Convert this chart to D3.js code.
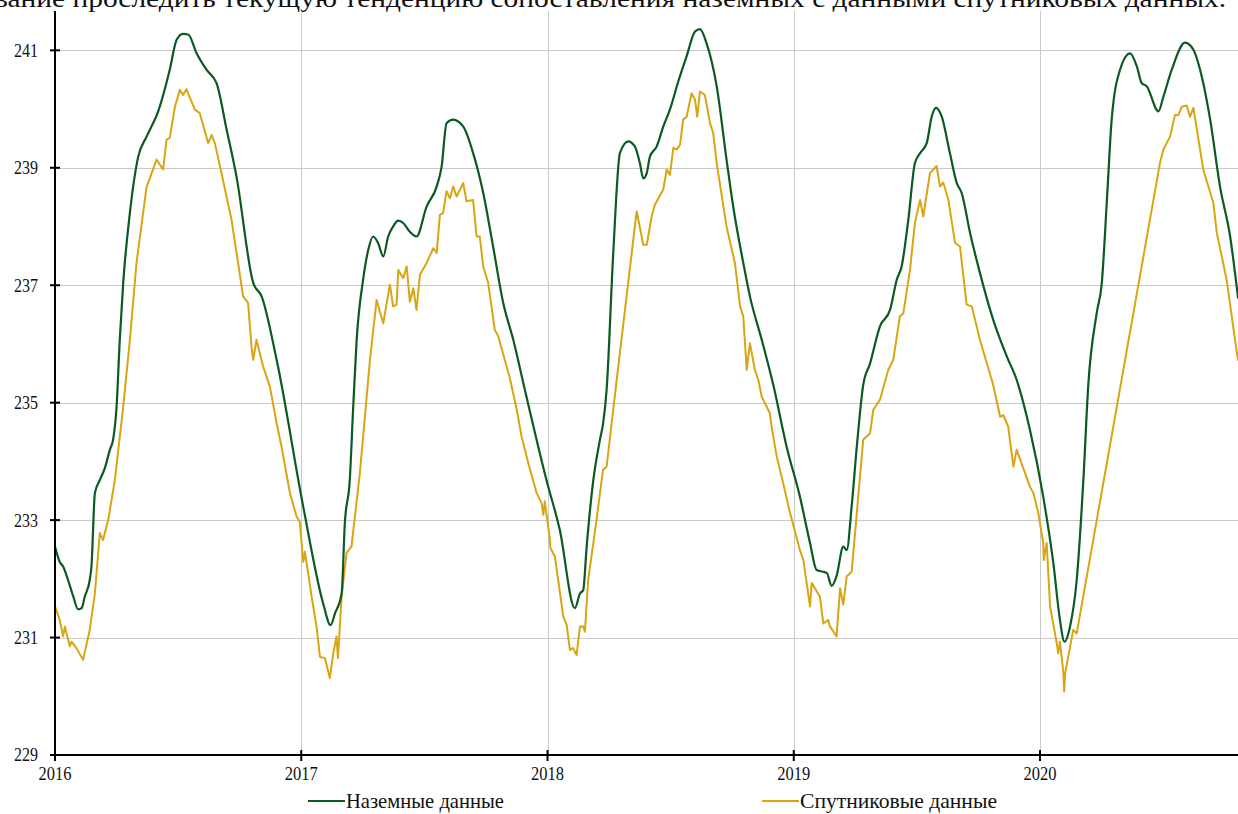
<!DOCTYPE html>
<html>
<head>
<meta charset="utf-8">
<script src="https://cdn.jsdelivr.net/npm/d3@7"></script>
<style>
  html, body { margin: 0; padding: 0; background: #fff; }
  svg { display: block; }
  text { font-family: "Liberation Serif", "Times New Roman", serif; fill: #111; }
</style>
</head>
<body>
<svg id="chart" width="1238" height="814"></svg>
<script>
// Ground-station series: [decimal year, value]
const groundData = [
  [2016.000,232.55],[2016.019,232.29],[2016.033,232.21],[2016.053,231.98],[2016.074,231.70],
  [2016.094,231.48],[2016.108,231.50],[2016.121,231.70],[2016.141,231.98],[2016.148,232.21],
  [2016.162,233.46],[2016.182,233.68],[2016.202,233.88],[2016.223,234.20],[2016.236,234.37],
  [2016.250,234.93],[2016.263,236.07],[2016.277,237.04],[2016.304,238.23],[2016.338,239.19],
  [2016.372,239.53],[2016.419,239.96],[2016.466,240.67],[2016.494,241.18],[2016.520,241.28],
  [2016.541,241.27],[2016.575,240.95],[2016.615,240.67],[2016.656,240.44],[2016.697,239.65],
  [2016.737,238.85],[2016.805,237.04],[2016.839,236.81],[2016.900,235.73],[2017.008,233.23],
  [2017.089,231.58],[2017.119,231.21],[2017.137,231.41],[2017.164,231.75],[2017.177,232.95],
  [2017.197,233.68],[2017.211,234.93],[2017.225,236.07],[2017.251,237.09],[2017.272,237.60],
  [2017.292,237.83],[2017.312,237.72],[2017.333,237.49],[2017.353,237.83],[2017.373,238.00],
  [2017.394,238.10],[2017.414,238.06],[2017.441,237.91],[2017.468,237.83],[2017.509,238.34],
  [2017.550,238.68],[2017.570,239.02],[2017.590,239.76],[2017.617,239.82],[2017.658,239.70],
  [2017.698,239.25],[2017.739,238.57],[2017.779,237.66],[2017.820,236.70],[2017.861,236.07],
  [2017.908,235.22],[2017.996,233.68],[2018.050,232.83],[2018.111,231.50],[2018.132,231.75],
  [2018.145,231.81],[2018.159,232.55],[2018.186,233.68],[2018.213,234.37],[2018.226,234.65],
  [2018.240,235.22],[2018.267,237.55],[2018.294,239.25],[2018.328,239.45],[2018.355,239.36],
  [2018.375,239.08],[2018.389,238.82],[2018.403,238.91],[2018.416,239.19],[2018.443,239.36],
  [2018.470,239.70],[2018.497,239.99],[2018.531,240.47],[2018.565,240.90],[2018.599,241.32],
  [2018.619,241.36],[2018.646,241.12],[2018.687,240.39],[2018.727,239.14],[2018.754,238.34],
  [2018.795,237.38],[2018.822,236.81],[2018.870,236.07],[2018.917,235.30],[2018.971,234.25],
  [2019.025,233.40],[2019.066,232.61],[2019.093,232.15],[2019.120,232.12],[2019.134,232.10],
  [2019.154,231.88],[2019.174,232.05],[2019.201,232.55],[2019.215,232.49],[2019.235,233.23],
  [2019.256,234.25],[2019.282,235.30],[2019.310,235.67],[2019.350,236.30],[2019.391,236.58],
  [2019.418,237.09],[2019.438,237.32],[2019.465,238.11],[2019.492,239.08],[2019.513,239.25],
  [2019.540,239.42],[2019.560,239.87],[2019.578,240.02],[2019.601,239.87],[2019.634,239.25],
  [2019.662,238.74],[2019.682,238.57],[2019.716,237.89],[2019.756,237.21],[2019.810,236.41],
  [2019.865,235.79],[2019.905,235.39],[2019.959,234.54],[2020.013,233.40],[2020.054,232.27],
  [2020.081,231.30],[2020.099,230.93],[2020.122,231.19],[2020.149,231.98],[2020.176,233.68],
  [2020.196,235.30],[2020.230,236.52],[2020.251,237.04],[2020.271,238.40],[2020.291,239.82],
  [2020.325,240.67],[2020.366,240.95],[2020.393,240.73],[2020.413,240.44],[2020.433,240.39],
  [2020.481,239.96],[2020.501,240.21],[2020.535,240.67],[2020.589,241.13],[2020.623,241.01],
  [2020.650,240.67],[2020.691,239.82],[2020.731,238.68],[2020.772,237.83],[2020.804,236.79]
];

// Satellite series: [decimal year, value]
const satData = [
  [2016.000,231.53],[2016.019,231.30],[2016.033,231.02],[2016.040,231.19],[2016.060,230.85],
  [2016.067,230.93],[2016.087,230.82],[2016.114,230.62],[2016.141,231.13],[2016.162,231.75],
  [2016.182,232.78],[2016.195,232.66],[2016.216,233.00],[2016.243,233.68],[2016.277,234.93],
  [2016.304,236.07],[2016.331,237.38],[2016.372,238.68],[2016.385,238.82],[2016.412,239.14],
  [2016.439,238.97],[2016.453,239.48],[2016.466,239.51],[2016.487,240.04],[2016.507,240.33],
  [2016.520,240.24],[2016.534,240.34],[2016.548,240.19],[2016.568,239.99],[2016.588,239.93],
  [2016.622,239.42],[2016.636,239.56],[2016.649,239.42],[2016.676,238.91],[2016.717,238.11],
  [2016.764,236.81],[2016.784,236.70],[2016.798,235.96],[2016.805,235.73],[2016.818,236.07],
  [2016.845,235.62],[2016.873,235.27],[2016.900,234.65],[2016.920,234.25],[2016.954,233.46],
  [2016.981,233.06],[2016.994,232.97],[2017.008,232.29],[2017.015,232.46],[2017.042,231.70],
  [2017.062,231.19],[2017.076,230.67],[2017.096,230.65],[2017.116,230.31],[2017.130,230.73],
  [2017.143,231.02],[2017.149,230.65],[2017.164,231.70],[2017.184,232.44],[2017.204,232.55],
  [2017.238,233.80],[2017.279,235.73],[2017.306,236.75],[2017.333,236.35],[2017.360,237.01],
  [2017.373,236.64],[2017.387,236.67],[2017.394,237.26],[2017.414,237.12],[2017.428,237.32],
  [2017.441,236.72],[2017.455,236.95],[2017.468,236.58],[2017.482,237.18],[2017.509,237.38],
  [2017.536,237.63],[2017.550,237.55],[2017.563,238.20],[2017.576,238.23],[2017.590,238.60],
  [2017.604,238.48],[2017.617,238.68],[2017.631,238.51],[2017.658,238.74],[2017.671,238.43],
  [2017.698,238.45],[2017.712,237.83],[2017.725,237.83],[2017.739,237.32],[2017.759,237.04],
  [2017.786,236.24],[2017.800,236.13],[2017.847,235.42],[2017.875,234.88],[2017.895,234.42],
  [2017.922,233.97],[2017.929,233.86],[2017.956,233.46],[2017.976,233.29],[2017.983,233.09],
  [2017.989,233.32],[2018.010,232.66],[2018.012,232.52],[2018.030,232.38],[2018.064,231.36],
  [2018.078,231.21],[2018.091,230.79],[2018.104,230.82],[2018.118,230.70],[2018.132,231.19],
  [2018.145,231.19],[2018.152,231.10],[2018.165,231.98],[2018.199,233.00],[2018.220,233.68],
  [2018.226,233.86],[2018.240,233.91],[2018.281,235.39],[2018.362,238.26],[2018.389,237.69],
  [2018.403,237.69],[2018.423,238.17],[2018.436,238.37],[2018.470,238.63],[2018.484,238.97],
  [2018.497,238.88],[2018.511,239.34],[2018.524,239.31],[2018.538,239.39],[2018.551,239.82],
  [2018.565,239.87],[2018.585,240.27],[2018.599,240.16],[2018.608,239.87],[2018.619,240.30],
  [2018.639,240.24],[2018.660,239.76],[2018.673,239.59],[2018.687,239.08],[2018.727,238.00],
  [2018.761,237.38],[2018.782,236.64],[2018.795,236.47],[2018.809,235.56],[2018.822,236.01],
  [2018.842,235.56],[2018.856,235.39],[2018.870,235.10],[2018.903,234.82],[2018.910,234.59],
  [2018.931,234.08],[2018.957,233.63],[2018.985,233.12],[2019.025,232.49],[2019.039,232.32],
  [2019.066,231.53],[2019.073,231.93],[2019.106,231.70],[2019.120,231.24],[2019.140,231.30],
  [2019.147,231.19],[2019.174,231.02],[2019.188,231.84],[2019.201,231.56],[2019.215,232.04],
  [2019.235,232.12],[2019.256,233.12],[2019.282,234.37],[2019.310,234.48],[2019.323,234.88],
  [2019.350,235.05],[2019.384,235.56],[2019.404,235.73],[2019.431,236.47],[2019.445,236.52],
  [2019.472,237.26],[2019.492,238.06],[2019.513,238.45],[2019.526,238.17],[2019.553,238.91],
  [2019.580,239.03],[2019.594,238.68],[2019.607,238.75],[2019.628,238.45],[2019.655,237.72],
  [2019.675,237.66],[2019.702,236.67],[2019.723,236.64],[2019.756,236.07],[2019.810,235.30],
  [2019.838,234.76],[2019.851,234.79],[2019.871,234.59],[2019.892,233.91],[2019.905,234.20],
  [2019.959,233.57],[2019.973,233.46],[2019.993,233.12],[2020.013,232.61],[2020.015,232.32],
  [2020.027,232.61],[2020.041,231.53],[2020.068,230.90],[2020.074,230.73],[2020.081,230.93],
  [2020.095,230.39],[2020.098,230.08],[2020.102,230.39],[2020.135,231.13],[2020.149,231.07],
  [2020.487,239.08],[2020.501,239.31],[2020.528,239.53],[2020.548,239.90],[2020.562,239.90],
  [2020.576,240.04],[2020.596,240.06],[2020.609,239.87],[2020.623,240.02],[2020.663,238.97],
  [2020.704,238.40],[2020.718,237.89],[2020.758,237.09],[2020.792,236.07],[2020.804,235.73]
];

const yearTicks = [2016, 2017, 2018, 2019, 2020];
const valueTicks = [229, 231, 233, 235, 237, 239, 241];
const seriesNames = ["Наземные данные", "Спутниковые данные"];
const seriesColors = ["#0b5a22", "#d9a514"];
const headerText = "вание проследить текущую тенденцию сопоставления наземных с данными спутниковых данных.";

const plot = { left: 55, right: 1238, top: 11, bottom: 755 };

const svg = d3.select("#chart");

const x = d3.scaleLinear().domain([2016, 2020.804]).range([plot.left, plot.right]);
const y = d3.scaleLinear().domain([229, 241.67]).range([plot.bottom, plot.top]);

// Running text of the page above the figure (its upper part runs off the top edge)
svg.append("text")
  .attr("x", -6).attr("y", 7)
  .attr("font-size", 26)
  .attr("textLength", 1232)
  .attr("lengthAdjust", "spacingAndGlyphs")
  .text(headerText);

// Grid
const grid = svg.append("g").attr("stroke", "#c9c9c9").attr("stroke-width", 1);
grid.selectAll("line.h").data(valueTicks.filter(v => v !== 229)).join("line")
  .attr("x1", plot.left).attr("x2", plot.right)
  .attr("y1", d => Math.round(y(d)) + 0.5).attr("y2", d => Math.round(y(d)) + 0.5);
grid.selectAll("line.v").data(yearTicks.filter(t => t !== 2016)).join("line")
  .attr("x1", d => Math.round(x(d)) + 0.5).attr("x2", d => Math.round(x(d)) + 0.5)
  .attr("y1", plot.top).attr("y2", plot.bottom);

// Clip for the series
svg.append("clipPath").attr("id", "plotClip").append("rect")
  .attr("x", plot.left).attr("y", 0)
  .attr("width", plot.right - plot.left).attr("height", plot.bottom);

// Ground data is a smoothed series; satellite data is drawn point to point
const smoothLine = d3.line().curve(d3.curveMonotoneX).x(d => x(d[0])).y(d => y(d[1]));
const rawLine = d3.line().x(d => x(d[0])).y(d => y(d[1]));
const lines = svg.append("g").attr("clip-path", "url(#plotClip)").attr("fill", "none")
  .attr("stroke-linejoin", "round").attr("stroke-linecap", "round");
lines.append("path").datum(satData).attr("d", rawLine)
  .attr("stroke", seriesColors[1]).attr("stroke-width", 2);
lines.append("path").datum(groundData).attr("d", smoothLine)
  .attr("stroke", seriesColors[0]).attr("stroke-width", 2.2);

// Y axis
const yAxis = svg.append("g");
yAxis.append("line").attr("x1", plot.left).attr("x2", plot.left)
  .attr("y1", plot.top).attr("y2", plot.bottom + 1)
  .attr("stroke", "#000").attr("stroke-width", 2);
yAxis.selectAll("line.tick").data(valueTicks).join("line")
  .attr("x1", plot.left - 5).attr("x2", plot.left + 5)
  .attr("y1", d => y(d)).attr("y2", d => y(d))
  .attr("stroke", "#000").attr("stroke-width", 2);
yAxis.selectAll("text").data(valueTicks).join("text")
  .attr("x", 38).attr("y", d => y(d)).attr("dy", "0.34em")
  .attr("text-anchor", "end").attr("font-size", 19)
  .attr("textLength", 24).attr("lengthAdjust", "spacingAndGlyphs")
  .text(d => d);

// X axis
const xAxis = svg.append("g");
xAxis.append("line").attr("x1", plot.left - 1).attr("x2", plot.right)
  .attr("y1", plot.bottom).attr("y2", plot.bottom)
  .attr("stroke", "#000").attr("stroke-width", 2);
xAxis.selectAll("line.tick").data(yearTicks).join("line")
  .attr("x1", d => x(d)).attr("x2", d => x(d))
  .attr("y1", plot.bottom - 5).attr("y2", plot.bottom + 6)
  .attr("stroke", "#000").attr("stroke-width", 2);
xAxis.selectAll("text").data(yearTicks).join("text")
  .attr("x", d => x(d)).attr("y", 780)
  .attr("text-anchor", "middle").attr("font-size", 19)
  .attr("textLength", 33).attr("lengthAdjust", "spacingAndGlyphs")
  .text(d => d);

// Legend
const legendItems = [
  { name: seriesNames[0], color: seriesColors[0], x0: 308, tx: 346, tw: 158 },
  { name: seriesNames[1], color: seriesColors[1], x0: 762, tx: 800, tw: 197 }
];
const legend = svg.append("g");
legendItems.forEach(it => {
  legend.append("line").attr("x1", it.x0).attr("x2", it.x0 + 37)
    .attr("y1", 801).attr("y2", 801)
    .attr("stroke", it.color).attr("stroke-width", 2.2);
  legend.append("text").attr("x", it.tx).attr("y", 808)
    .attr("font-size", 21)
    .attr("textLength", it.tw).attr("lengthAdjust", "spacingAndGlyphs")
    .text(it.name);
});
</script>
</body>
</html>
